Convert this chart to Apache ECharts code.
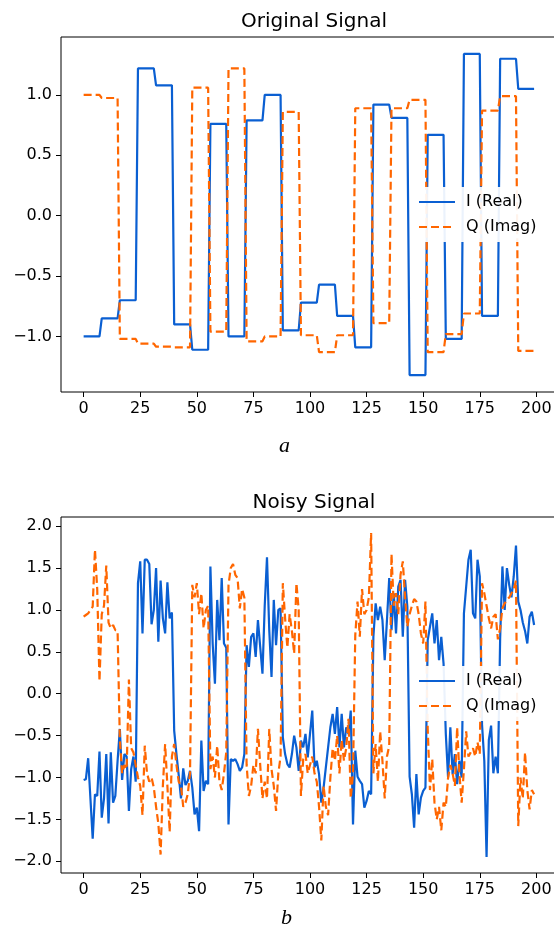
<!DOCTYPE html>
<html>
<head>
<meta charset="utf-8">
<script src="https://cdn.jsdelivr.net/npm/echarts@6/dist/echarts.min.js"></script>
<style>
html,body{margin:0;padding:0;background:#fff;}
#chart{width:554px;height:935px;}
</style>
</head>
<body>
<div id="chart"></div>
<script>
// ---- data ----
const xTicks = [0, 25, 50, 75, 100, 125, 150, 175, 200];
const yTicksTop = [-1.0, -0.5, 0.0, 0.5, 1.0];
const yTicksBottom = [-2.0, -1.5, -1.0, -0.5, 0.0, 0.5, 1.0, 1.5, 2.0];
const seriesNames = ['I (Real)', 'Q (Imag)'];
const titles = ['Original Signal', 'Noisy Signal'];
const captions = ['a', 'b'];

const origI = [
 -1.0,-1.0,-1.0,-1.0,-1.0,-1.0,-1.0,-1.0,
 -0.85,-0.85,-0.85,-0.85,-0.85,-0.85,-0.85,-0.85,
 -0.70,-0.70,-0.70,-0.70,-0.70,-0.70,-0.70,-0.70,
 1.22,1.22,1.22,1.22,1.22,1.22,1.22,1.22,
 1.08,1.08,1.08,1.08,1.08,1.08,1.08,1.08,
 -0.90,-0.90,-0.90,-0.90,-0.90,-0.90,-0.90,-0.90,
 -1.11,-1.11,-1.11,-1.11,-1.11,-1.11,-1.11,-1.11,
 0.76,0.76,0.76,0.76,0.76,0.76,0.76,0.76,
 -1.0,-1.0,-1.0,-1.0,-1.0,-1.0,-1.0,-1.0,
 0.79,0.79,0.79,0.79,0.79,0.79,0.79,0.79,
 1.0,1.0,1.0,1.0,1.0,1.0,1.0,1.0,
 -0.95,-0.95,-0.95,-0.95,-0.95,-0.95,-0.95,-0.95,
 -0.72,-0.72,-0.72,-0.72,-0.72,-0.72,-0.72,-0.72,
 -0.57,-0.57,-0.57,-0.57,-0.57,-0.57,-0.57,-0.57,
 -0.83,-0.83,-0.83,-0.83,-0.83,-0.83,-0.83,-0.83,
 -1.09,-1.09,-1.09,-1.09,-1.09,-1.09,-1.09,-1.09,
 0.92,0.92,0.92,0.92,0.92,0.92,0.92,0.92,
 0.81,0.81,0.81,0.81,0.81,0.81,0.81,0.81,
 -1.32,-1.32,-1.32,-1.32,-1.32,-1.32,-1.32,-1.32,
 0.67,0.67,0.67,0.67,0.67,0.67,0.67,0.67,
 -1.02,-1.02,-1.02,-1.02,-1.02,-1.02,-1.02,-1.02,
 1.34,1.34,1.34,1.34,1.34,1.34,1.34,1.34,
 -0.83,-0.83,-0.83,-0.83,-0.83,-0.83,-0.83,-0.83,
 1.30,1.30,1.30,1.30,1.30,1.30,1.30,1.30,
 1.05,1.05,1.05,1.05,1.05,1.05,1.05,1.05
];
const origQ = [
 1.0,1.0,1.0,1.0,1.0,1.0,1.0,1.0,
 0.975,0.975,0.975,0.975,0.975,0.975,0.975,0.975,
 -1.02,-1.02,-1.02,-1.02,-1.02,-1.02,-1.02,-1.02,
 -1.06,-1.06,-1.06,-1.06,-1.06,-1.06,-1.06,-1.06,
 -1.085,-1.085,-1.085,-1.085,-1.085,-1.085,-1.085,-1.085,
 -1.09,-1.09,-1.09,-1.09,-1.09,-1.09,-1.09,-1.09,
 1.06,1.06,1.06,1.06,1.06,1.06,1.06,1.06,
 -0.96,-0.96,-0.96,-0.96,-0.96,-0.96,-0.96,-0.96,
 1.22,1.22,1.22,1.22,1.22,1.22,1.22,1.22,
 -1.04,-1.04,-1.04,-1.04,-1.04,-1.04,-1.04,-1.04,
 -1.0,-1.0,-1.0,-1.0,-1.0,-1.0,-1.0,-1.0,
 0.86,0.86,0.86,0.86,0.86,0.86,0.86,0.86,
 -0.99,-0.99,-0.99,-0.99,-0.99,-0.99,-0.99,-0.99,
 -1.13,-1.13,-1.13,-1.13,-1.13,-1.13,-1.13,-1.13,
 -0.99,-0.99,-0.99,-0.99,-0.99,-0.99,-0.99,-0.99,
 0.89,0.89,0.89,0.89,0.89,0.89,0.89,0.89,
 -0.89,-0.89,-0.89,-0.89,-0.89,-0.89,-0.89,-0.89,
 0.89,0.89,0.89,0.89,0.89,0.89,0.89,0.89,
 0.96,0.96,0.96,0.96,0.96,0.96,0.96,0.96,
 -1.13,-1.13,-1.13,-1.13,-1.13,-1.13,-1.13,-1.13,
 -0.98,-0.98,-0.98,-0.98,-0.98,-0.98,-0.98,-0.98,
 -0.81,-0.81,-0.81,-0.81,-0.81,-0.81,-0.81,-0.81,
 0.87,0.87,0.87,0.87,0.87,0.87,0.87,0.87,
 0.99,0.99,0.99,0.99,0.99,0.99,0.99,0.99,
 -1.12,-1.12,-1.12,-1.12,-1.12,-1.12,-1.12,-1.12
];
const noisyI = [
 -1.03,-1.02,-0.77,-1.25,-1.73,-1.2,-1.22,-0.69,
 -1.48,-1.25,-0.72,-1.55,-0.70,-1.30,-1.22,-0.80,
 -0.42,-1.03,-0.72,-0.75,-1.40,-0.90,-0.75,-1.05,
 1.32,1.58,0.72,1.60,1.60,1.55,0.83,1.0,
 1.50,0.62,1.35,0.90,0.72,1.33,0.90,0.97,
 -0.44,-0.72,-0.97,-1.25,-0.89,-1.09,-1.04,-0.92,
 -1.12,-1.44,-1.36,-1.64,-0.56,-1.16,-1.04,-1.08,
 1.52,0.60,0.12,1.12,0.64,1.38,0.60,0.55,
 -1.56,-0.78,-0.80,-0.78,-0.84,-0.92,-0.88,-0.72,
 0.58,0.32,0.68,0.72,0.44,0.88,0.56,0.24,
 1.05,1.63,0.76,0.20,1.12,0.58,1.0,1.02,
 -0.52,-0.72,-0.84,-0.88,-0.72,-0.50,-0.64,-0.92,
 -0.56,-0.64,-0.48,-0.76,-0.48,-0.20,-0.88,-0.80,
 -0.96,-1.30,-1.12,-0.88,-0.64,-0.40,-0.24,-0.48,
 -0.16,-0.64,-0.24,-0.64,-0.40,-0.48,-0.20,-1.56,
 -0.68,-0.99,-1.04,-1.08,-1.36,-1.28,-1.16,-1.20,
 0.68,1.08,0.88,1.04,0.88,0.40,0.88,1.38,
 0.76,1.20,0.72,1.28,1.36,0.68,1.36,1.04,
 -0.99,-1.20,-1.60,-0.96,-1.44,-1.24,-1.16,-1.12,
 0.64,0.80,0.96,0.60,0.88,0.40,0.68,0.36,
 -0.48,-1.0,-0.40,-0.96,-0.72,-1.08,-0.80,-1.0,
 0.96,1.28,1.60,1.72,0.96,0.90,1.60,1.40,
 -0.37,-0.80,-1.95,-0.55,-0.38,-0.95,-0.75,-0.95,
 0.66,1.52,1.0,1.50,1.30,1.15,1.40,1.77,
 1.10,1.0,0.85,0.75,0.60,0.92,0.98,0.82
];
const noisyQ = [
 0.92,0.94,0.96,1.0,1.04,1.72,1.25,0.15,
 0.95,1.05,1.53,0.85,0.78,0.82,0.76,0.75,
 -0.55,-0.95,-0.85,-0.90,0.17,-0.65,-0.70,-0.85,
 -1.0,-1.10,-1.45,-0.62,-0.95,-1.05,-1.0,-1.12,
 -1.35,-1.55,-1.92,-1.10,-0.60,-1.10,-1.65,-0.75,
 -0.60,-0.85,-1.05,-1.10,-1.35,-1.30,-1.20,-0.95,
 1.30,1.15,1.32,0.95,1.20,0.78,1.0,1.05,
 -0.90,-0.75,-1.0,-0.62,-1.05,-1.15,-0.95,-0.70,
 1.30,1.50,1.55,1.42,1.38,1.02,1.25,1.15,
 -0.85,-1.22,-1.10,-0.85,-0.95,-0.42,-0.85,-1.25,
 -1.05,-1.25,-0.42,-0.90,-1.10,-1.40,-0.95,-0.75,
 1.32,0.90,0.55,0.95,0.75,0.48,1.32,1.0,
 -1.22,-0.78,-0.72,-0.95,-0.85,-0.75,-0.95,-1.05,
 -1.35,-1.75,-1.10,-1.35,-1.45,-1.0,-0.65,-0.80,
 -0.50,-0.95,-0.55,-0.80,-0.65,-0.30,-1.25,-0.95,
 0.70,1.10,0.68,1.25,0.95,1.0,1.15,1.92,
 -0.95,-0.60,-1.05,-0.45,-0.80,-1.25,-0.75,-0.62,
 1.67,1.05,1.20,0.95,1.42,1.58,1.15,0.80,
 0.95,1.05,1.13,1.10,0.95,0.72,0.60,1.10,
 -0.42,-1.15,-0.78,-1.30,-1.50,-1.35,-1.63,-1.30,
 -1.35,-1.0,-0.85,-0.95,-1.10,-0.40,-0.95,-1.30,
 -0.90,-0.45,-0.75,-0.70,-0.65,-0.75,-0.58,-0.72,
 1.32,1.20,1.05,0.90,0.78,0.92,0.95,0.65,
 0.78,1.02,1.08,1.12,1.15,1.20,1.25,1.35,
 -1.58,-1.0,-1.25,-0.70,-1.15,-1.38,-1.15,-1.20
];

// ---- chart ----
const BLUE = '#0a5fd2';
const ORANGE = '#ff6600';
const FONT = 'DejaVu Sans';
const pairs = arr => arr.map((v, i) => [i, v]);
const fmtY = v => (v < 0 ? '\u2212' : '') + Math.abs(v).toFixed(1);

const grids = [
  { left: 61, width: 498, top: 37, height: 355 },
  { left: 61, width: 498, top: 517, height: 356 }
];
const yRanges = [[-1.46, 1.48], [-2.14, 2.11]];
const yTicks = [yTicksTop, yTicksBottom];

function xAxis(i) {
  return {
    type: 'value', gridIndex: i, min: -10, max: 210,
    axisLine: { show: false, onZero: false },
    splitLine: { show: false },
    axisTick: { show: true, customValues: xTicks, length: 5, lineStyle: { color: '#000', width: 1 } },
    axisLabel: { customValues: xTicks, margin: 9, color: '#000', fontFamily: FONT, fontSize: 16 }
  };
}
function yAxis(i) {
  return {
    type: 'value', gridIndex: i, min: yRanges[i][0], max: yRanges[i][1],
    axisLine: { show: false, onZero: false },
    splitLine: { show: false },
    axisTick: { show: true, customValues: yTicks[i], length: 5, lineStyle: { color: '#000', width: 1 } },
    axisLabel: { customValues: yTicks[i], margin: 9, color: '#000', fontFamily: FONT, fontSize: 16, formatter: fmtY }
  };
}
function lineSeries(name, data, gi, color, dashed) {
  return {
    name: name, type: 'line', xAxisIndex: gi, yAxisIndex: gi,
    data: pairs(data), symbol: 'none', animation: false,
    lineStyle: { color: color, width: 2.2, type: dashed ? [8, 4] : 'solid' },
    itemStyle: { color: color }
  };
}
function legend(top) {
  return {
    data: seriesNames.map(n => ({ name: n })),
    orient: 'vertical', left: 410, top: top,
    itemWidth: 36, itemHeight: 14, itemGap: 7,
    padding: [6, 40, 6, 8],
    backgroundColor: 'rgba(255,255,255,0.92)',
    itemStyle: { opacity: 0 },
    textStyle: { fontFamily: FONT, fontSize: 16, color: '#000', lineHeight: 18, padding: [0, 0, 0, 6] },
    selectedMode: false
  };
}

const chart = echarts.init(document.getElementById('chart'), null, { renderer: 'canvas' });
chart.setOption({
  animation: false,
  backgroundColor: '#fff',
  title: [
    { text: titles[0], left: 309, top: 7, textAlign: 'center', textStyle: { fontFamily: FONT, fontSize: 20, fontWeight: 'normal', color: '#000' } },
    { text: titles[1], left: 309, top: 488, textAlign: 'center', textStyle: { fontFamily: FONT, fontSize: 20, fontWeight: 'normal', color: '#000' } }
  ],
  grid: grids.map(g => Object.assign({ show: true, borderColor: '#000', borderWidth: 1, backgroundColor: 'transparent', containLabel: false, outerBoundsMode: 'none' }, g)),
  xAxis: [xAxis(0), xAxis(1)],
  yAxis: [yAxis(0), yAxis(1)],
  legend: [
    Object.assign(legend(187), { id: 'l0' }),
    Object.assign(legend(666), { id: 'l1' })
  ],
  series: [
    lineSeries(seriesNames[0], origI, 0, BLUE, false),
    lineSeries(seriesNames[1], origQ, 0, ORANGE, true),
    lineSeries(seriesNames[0], noisyI, 1, BLUE, false),
    lineSeries(seriesNames[1], noisyQ, 1, ORANGE, true)
  ],
  graphic: [
    { type: 'text', left: 279, top: 435, style: { text: captions[0], font: 'italic 22px "Liberation Serif"', fill: '#000' } },
    { type: 'text', left: 281, top: 907, style: { text: captions[1], font: 'italic 22px "Liberation Serif"', fill: '#000' } }
  ]
});
</script>
</body>
</html>
